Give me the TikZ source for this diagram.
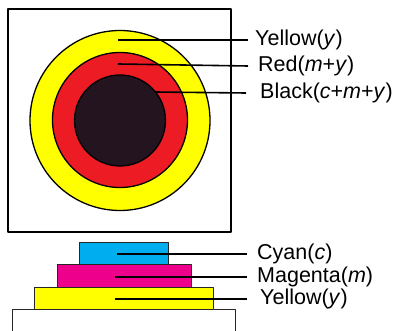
\documentclass[tikz,border=0pt]{standalone}
\usepackage{fontspec}
\setmainfont{Liberation Sans}
\usetikzlibrary{positioning}
\definecolor{Ink-yellow}{RGB}{255, 255, 0}
\definecolor{Ink-red}{RGB}{237, 28, 36}
\definecolor{Ink-black}{RGB}{35, 20, 32}
\definecolor{Ink-cyan}{RGB}{0, 174, 239}
\definecolor{Ink-magenta}{RGB}{236, 0, 140}
\begin{document}
\begin{tikzpicture} [ % styles first
    x=1pt, y=-1pt, line join=round,
    ring/.style = {circle, draw=black, line width=1.3pt, inner sep=0pt},
    ring-Y/.style = {ring, fill=Ink-yellow, minimum size=180pt},
    ring-R/.style = {ring, fill=Ink-red, minimum size=135pt},
    ring-K/.style = {ring, fill=Ink-black, minimum size=91pt},
    layer/.style = {rectangle, draw=black!85, line width=1.1pt, inner sep=0pt, anchor=north west},
    lbl/.style = {anchor=west, inner sep=0pt, font=\fontsize{21.5}{24}\selectfont},
    lead/.style = {line width=1.6pt, black}
]

\useasboundingbox (0,0) rectangle (393,331);
\clip (0,0) rectangle (393,331);

% frame
\draw [line width=1.8pt] (8,9) rectangle (231,232);

% rings
\node [ring-Y] (cy) at (120,120.5){};
\node [ring-R] (cr) at (120,120){};
\node [ring-K] (ck) at (120,120.5){};

% layers
\node [layer, fill=white, minimum width=223pt, minimum height=40pt] (bw) at (12,309){};
\node [layer, fill=Ink-yellow, minimum width=179pt, minimum height=22pt] (by) at (34,287){};
\node [layer, fill=Ink-magenta, minimum width=134pt, minimum height=23pt] (bm) at (57,264){};
\node [layer, fill=Ink-cyan, minimum width=89pt, minimum height=22pt] (bc) at (79,242){};

% labels
\node [lbl] (ly) at (255,40){Yellow(\textit{y})};
\node [lbl] (lr) at (258,66){Red(\textit{m}+\textit{y})};
\node [lbl] (lk) at (260,93){Black(\textit{c}+\textit{m}+\textit{y})};
\node [lbl] (lc) at (257,254){Cyan(\textit{c})};
\node [lbl] (lm) at (257,277){Magenta(\textit{m})};
\node [lbl] (ly2) at (260,299){Yellow(\textit{y})};

% start points
\coordinate (py) at (118,40);
\coordinate (pr) at (118,64);
\coordinate (pk) at (155,92);
\coordinate (pc) at (117,254);
\coordinate (pm) at (115,277);
\coordinate (py2) at (115,299);

% leaders
\draw [lead] (py)--([xshift=-7pt]ly.west);
\draw [lead] (pr)--([xshift=-10pt]lr.west);
\draw [lead] (pk)--([xshift=-14pt]lk.west);
\draw [lead] (pc)--([xshift=-10pt]lc.west);
\draw [lead] (pm)--([xshift=-10pt]lm.west);
\draw [lead] (py2)--([xshift=-13pt]ly2.west);

\end{tikzpicture}
\end{document}
